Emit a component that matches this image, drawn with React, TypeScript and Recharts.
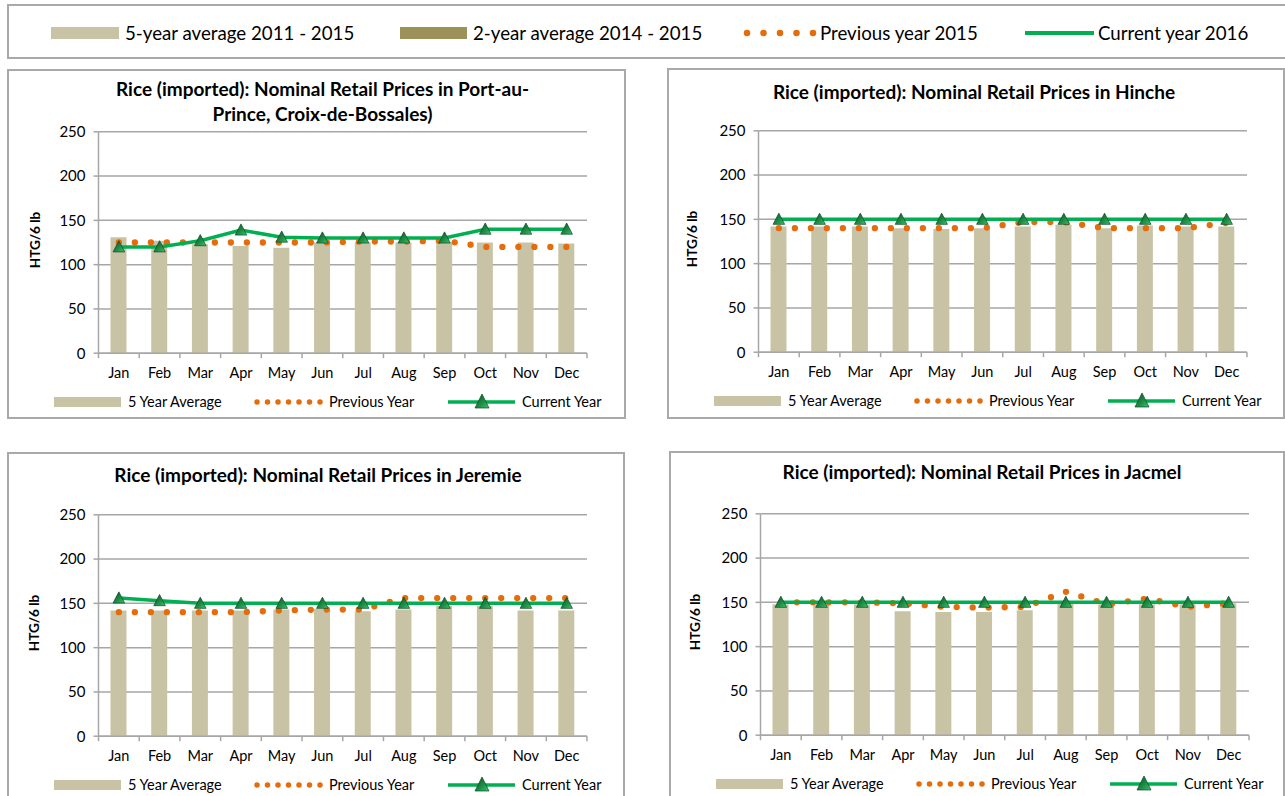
import React from 'react';
import { ComposedChart, Bar, Line, XAxis, YAxis, CartesianGrid } from 'recharts';

const months = ['Jan', 'Feb', 'Mar', 'Apr', 'May', 'Jun', 'Jul', 'Aug', 'Sep', 'Oct', 'Nov', 'Dec'];
const yTicks = [0, 50, 100, 150, 200, 250];

const papFiveYear = [131, 127, 123, 121, 119, 125, 125, 125, 125, 125, 125, 124];
const papPrevYear = [125, 125, 125, 125, 125, 125, 126, 126, 127, 120, 120, 120];
const papCurrYear = [120, 120, 127, 139, 131, 130, 130, 130, 130, 140, 140, 140];

const hincheFiveYear = [142, 142, 142, 140, 139, 140, 142, 144, 140, 143, 142, 142];
const hinchePrevYear = [140, 140, 140, 140, 140, 140, 147, 147, 140, 140, 140, 146];
const hincheCurrYear = [150, 150, 150, 150, 150, 150, 150, 150, 150, 150, 150, 150];

const jeremieFiveYear = [142, 142, 142, 142, 143, 144, 141, 143, 147, 147, 142, 142];
const jeremiePrevYear = [140, 140, 140, 140, 142, 143, 143, 156, 156, 156, 156, 156];
const jeremieCurrYear = [156, 153, 150, 150, 150, 150, 150, 150, 150, 150, 150, 150];

const jacmelFiveYear = [148, 148, 148, 140, 139, 139, 141, 149, 148, 148, 148, 149];
const jacmelPrevYear = [150, 150, 150, 149, 145, 144, 145, 162, 148, 154, 145, 149];
const jacmelCurrYear = [150, 150, 150, 150, 150, 150, 150, 150, 150, 150, 150, 150];

const panelLegendLabels = ['5 Year Average', 'Previous Year', 'Current Year'];
const topLegendLabels = ['5-year average 2011 - 2015', '2-year average 2014 - 2015', 'Previous year 2015', 'Current year 2016'];
const yAxisTitle = 'HTG/6 lb';

const TAN = '#c9c3a5';
const OLIVE = '#9c9158';
const ORANGE = '#e46c0a';
const GREEN = '#00b050';
const GRID = '#a6a6a6';
const BORDER = '#a9a9a9';
const FONT = 'Lato, "Open Sans", sans-serif';

const PLOT_LEFT = 91.5;
const PLOT_RIGHT = 580;
const PLOT_TOP = 62.8;
const PLOT_BOTTOM = 284.2;
const Y_AXIS_W = 40;
const X_AXIS_H = 30;

type Panel = {
  x: number; y: number; w: number; h: number;
  title: string[]; titleY: number[]; titleX: number; yLabelX: number;
  five: number[]; prev: number[]; curr: number[];
};

const panels: Panel[] = [
  { x: 7, y: 69, w: 619, h: 350, title: ['Rice (imported): Nominal Retail Prices in Port-au-', 'Prince, Croix-de-Bossales)'], titleY: [20, 45], titleX: 315.5, yLabelX: 28, five: papFiveYear, prev: papPrevYear, curr: papCurrYear },
  { x: 667, y: 68, w: 618, h: 351, title: ['Rice (imported): Nominal Retail Prices in Hinche'], titleY: [24], titleX: 307, yLabelX: 25, five: hincheFiveYear, prev: hinchePrevYear, curr: hincheCurrYear },
  { x: 7, y: 452, w: 618, h: 350, title: ['Rice (imported): Nominal Retail Prices in Jeremie'], titleY: [23], titleX: 311, yLabelX: 27, five: jeremieFiveYear, prev: jeremiePrevYear, curr: jeremieCurrYear },
  { x: 669, y: 451, w: 616, h: 350, title: ['Rice (imported): Nominal Retail Prices in Jacmel'], titleY: [20.7], titleX: 313, yLabelX: 26, five: jacmelFiveYear, prev: jacmelPrevYear, curr: jacmelCurrYear },
];

function triPath(cx: number, cy: number, hw: number, up: number, down: number) {
  return `M${cx},${cy - up} L${cx + hw},${cy + down} L${cx - hw},${cy + down} Z`;
}

const TriangleDot = (props: any) => {
  const { cx, cy } = props;
  if (cx == null || cy == null) return null;
  return <path d={triPath(cx, cy, 5.8, 6.2, 5)} fill="url(#triGrad)" stroke="#0b4a24" strokeWidth={0.7} />;
};

const makeXTick = (band: number) => (props: any) => {
  const { x, y, payload, index } = props;
  return (
    <g>
      <line x1={x - band / 2} x2={x - band / 2} y1={y} y2={y + 5} stroke={GRID} strokeWidth={1.5} />
      {index === months.length - 1 && (
        <line x1={x + band / 2} x2={x + band / 2} y1={y} y2={y + 5} stroke={GRID} strokeWidth={1.5} />
      )}
      <text x={x} y={y + 20} dy="0.35em" textAnchor="middle" fontSize={14.5} fill="#000" fontFamily={FONT}>
        {payload.value}
      </text>
    </g>
  );
};

function PanelLegend() {
  const cy = 333;
  const textStyle: React.CSSProperties = { position: 'absolute', top: cy, transform: 'translateY(-50%)', fontSize: 14.5, lineHeight: '18px', whiteSpace: 'nowrap', color: '#000' };
  return (
    <>
      <div style={{ position: 'absolute', left: 47, top: cy - 5, width: 67, height: 10, background: TAN }} />
      <span style={{ ...textStyle, left: 121 }}>{panelLegendLabels[0]}</span>
      <svg style={{ position: 'absolute', left: 244, top: cy - 5 }} width={76} height={10}>
        <line x1={6} x2={69.8} y1={5} y2={5} stroke={ORANGE} strokeWidth={5.5} strokeDasharray="0 10.5" strokeLinecap="round" />
      </svg>
      <span style={{ ...textStyle, left: 322 }}>{panelLegendLabels[1]}</span>
      <svg style={{ position: 'absolute', left: 440, top: cy - 9 }} width={70} height={18}>
        <line x1={1} x2={68} y1={9} y2={9} stroke={GREEN} strokeWidth={3.5} />
        <path d={triPath(35, 9, 7, 8, 6)} fill="url(#triGrad)" stroke="#0b4a24" strokeWidth={0.7} />
      </svg>
      <span style={{ ...textStyle, left: 515 }}>{panelLegendLabels[2]}</span>
    </>
  );
}

function PanelChart({ p }: { p: Panel }) {
  const data = months.map((m, i) => ({ m, five: p.five[i], prev: p.prev[i], curr: p.curr[i] }));
  const band = (PLOT_RIGHT - PLOT_LEFT) / months.length;
  return (
    <div style={{ position: 'absolute', left: p.x, top: p.y, width: p.w, height: p.h }}>
      <div style={{ position: 'absolute', left: 0, top: 0, width: p.w, height: p.h, border: `2px solid ${BORDER}`, boxSizing: 'border-box' }} />
      <div style={{ position: 'absolute', left: 0, top: 0 }}>
        <ComposedChart
          width={p.w}
          height={p.h}
          data={data}
          margin={{ top: PLOT_TOP, left: PLOT_LEFT - Y_AXIS_W, right: p.w - PLOT_RIGHT, bottom: p.h - PLOT_BOTTOM - X_AXIS_H }}
        >
          <CartesianGrid vertical={false} stroke={GRID} strokeWidth={1.5} />
          <XAxis
            dataKey="m"
            interval={0}
            height={X_AXIS_H}
            tickSize={0}
            tickMargin={0}
            tickLine={false}
            axisLine={{ stroke: GRID, strokeWidth: 1.5 }}
            tick={makeXTick(band)}
          />
          <YAxis
            domain={[0, 250]}
            ticks={yTicks}
            width={Y_AXIS_W}
            tickSize={5}
            tickMargin={8}
            tickLine={{ stroke: GRID, strokeWidth: 1.5 }}
            axisLine={{ stroke: GRID, strokeWidth: 1.5 }}
            tick={{ fontSize: 15, fill: '#000', fontFamily: FONT }}
          />
          <Bar dataKey="five" fill={TAN} barSize={16} isAnimationActive={false} />
          <Line
            type="linear"
            dataKey="prev"
            stroke={ORANGE}
            strokeWidth={6.3}
            strokeDasharray="0 16"
            strokeLinecap="round"
            dot={false}
            activeDot={false}
            isAnimationActive={false}
          />
          <Line
            type="linear"
            dataKey="curr"
            stroke={GREEN}
            strokeWidth={3.5}
            dot={<TriangleDot />}
            activeDot={false}
            isAnimationActive={false}
          />
        </ComposedChart>
      </div>
      {p.title.map((t, i) => (
        <div
          key={i}
          style={{ position: 'absolute', left: p.titleX, top: p.titleY[i], transform: 'translate(-50%, -50%)', fontSize: 19, fontWeight: 700, whiteSpace: 'nowrap', lineHeight: '24px', color: '#000' }}
        >
          {t}
        </div>
      ))}
      <div
        style={{ position: 'absolute', left: p.yLabelX, top: 171, transform: 'translate(-50%, -50%) rotate(-90deg)', fontSize: 13.5, fontWeight: 700, whiteSpace: 'nowrap', lineHeight: '16px', color: '#000' }}
      >
        {yAxisTitle}
      </div>
      <PanelLegend />
    </div>
  );
}

function TopLegend() {
  const cy = 27;
  const textStyle: React.CSSProperties = { position: 'absolute', top: cy, transform: 'translateY(-50%)', fontSize: 18.7, lineHeight: '22px', whiteSpace: 'nowrap', color: '#000' };
  return (
    <div style={{ position: 'absolute', left: 7, top: 4, width: 1290, height: 55, border: `2px solid ${BORDER}`, boxSizing: 'border-box' }}>
      <div style={{ position: 'absolute', left: 42, top: cy - 6, width: 68, height: 12, background: TAN }} />
      <span style={{ ...textStyle, left: 116 }}>{topLegendLabels[0]}</span>
      <div style={{ position: 'absolute', left: 391, top: cy - 6, width: 67, height: 12, background: OLIVE }} />
      <span style={{ ...textStyle, left: 464 }}>{topLegendLabels[1]}</span>
      <svg style={{ position: 'absolute', left: 729, top: cy - 6 }} width={90} height={12}>
        <line x1={9} x2={75.8} y1={6} y2={6} stroke={ORANGE} strokeWidth={6.5} strokeDasharray="0 16.5" strokeLinecap="round" />
      </svg>
      <span style={{ ...textStyle, left: 811 }}>{topLegendLabels[2]}</span>
      <svg style={{ position: 'absolute', left: 1016, top: cy - 6 }} width={70} height={12}>
        <line x1={0} x2={69} y1={6} y2={6} stroke={GREEN} strokeWidth={4} />
      </svg>
      <span style={{ ...textStyle, left: 1089 }}>{topLegendLabels[3]}</span>
    </div>
  );
}

export default function App() {
  return (
    <div style={{ position: 'absolute', left: 0, top: 0, width: 1285, height: 796, overflow: 'hidden', background: '#fff', fontFamily: FONT }}>
      <svg width={0} height={0} style={{ position: 'absolute' }}>
        <defs>
          <linearGradient id="triGrad" x1="0" y1="0" x2="1" y2="1">
            <stop offset="0%" stopColor="#0f4f28" />
            <stop offset="55%" stopColor="#1d8a45" />
            <stop offset="100%" stopColor="#3cc46a" />
          </linearGradient>
        </defs>
      </svg>
      <TopLegend />
      {panels.map((p, i) => (
        <PanelChart key={i} p={p} />
      ))}
    </div>
  );
}
